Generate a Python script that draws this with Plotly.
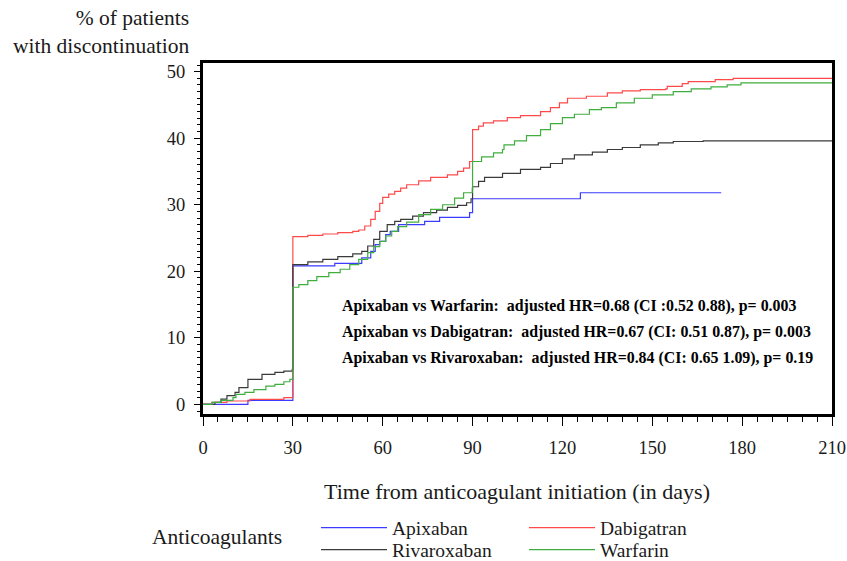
import plotly.graph_objects as go

# ---- data ----
api_t = [0, 15, 30, 44, 53, 56, 57.5, 59, 61, 62.5, 65.3, 74, 79, 89, 90, 126, 173]
api_y = [0, 0.6, 20.8, 21.2, 22.0, 23.0, 24.0, 24.5, 25.5, 26.0, 27.0, 27.5, 28.1, 28.8, 30.9, 31.8, 31.8]

dab_t = [0, 3, 8, 15.7, 27, 30, 35, 40, 45, 50, 52, 54, 56, 57.5, 59, 60, 62, 64, 66, 68, 72, 76, 81.6, 85, 87, 89,
         90, 92, 93.6, 97, 101.6, 106, 112.7, 116, 119, 121.7, 128, 135, 140, 146, 154.5, 155, 160, 162, 171, 177, 210]
dab_y = [0, 0.3, 0.5, 0.75, 1.0, 25.2, 25.4, 25.6, 25.8, 26.0, 26.2, 26.8, 27.8, 29.0, 30.2, 31.1, 31.6, 32.0, 32.5, 33.0,
         33.6, 34.1, 34.5, 35.0, 35.5, 36.5, 41.3, 41.8, 42.3, 42.6, 43.1, 43.4, 44.0, 44.6, 45.3, 46.0, 46.3, 46.8,
         47.1, 47.3, 47.4, 47.8, 48.2, 48.5, 48.8, 49.0, 49.0]

riv_t = [0, 4, 6, 8, 10.7, 12, 15, 19.7, 24, 27, 29.8, 30, 35, 40, 45, 50, 53, 55, 57, 59, 61.5, 64, 66, 70, 73.6, 78,
         81.6, 85, 88, 89.5, 90, 92, 94, 100, 106, 112.7, 116, 120, 124, 130, 135, 140, 146, 152, 157, 167, 210]
riv_y = [0, 0.3, 0.8, 1.3, 1.8, 2.5, 3.75, 4.5, 4.8, 5.0, 5.25, 21.0, 21.4, 21.8, 22.2, 22.6, 23.0, 23.8, 24.8, 26.0,
         27.0, 27.5, 27.8, 28.3, 28.8, 29.2, 29.6, 29.9, 30.3, 30.9, 32.7, 33.5, 34.1, 34.7, 35.3, 35.6, 36.2, 36.9,
         37.5, 37.9, 38.3, 38.6, 39.0, 39.3, 39.5, 39.6, 39.6]

war_t = [0, 3, 6, 10, 11, 14, 17, 21, 24, 27, 29, 30, 32, 35, 38, 42, 45.8, 49, 52, 55, 57, 59, 61, 63, 65, 68, 72, 76,
         80, 84, 87, 89.9, 90, 93, 97, 100, 100.5, 104, 108, 112.7, 116, 120, 124, 129, 133, 138, 144, 150, 157, 163,
         169.6, 175, 179.6, 210]
war_y = [0, 0.3, 0.6, 1.0, 1.5, 1.8, 2.2, 2.75, 3.0, 3.4, 3.75, 17.6, 18.0, 18.6, 19.2, 19.8, 20.3, 21.0, 21.8, 22.8,
         23.7, 24.5, 25.3, 26.0, 26.7, 27.4, 28.5, 29.3, 30.0, 31.0, 31.8, 32.5, 36.5, 37.2, 37.8, 38.3, 39.0, 39.6,
         40.4, 41.3, 42.2, 43.1, 43.6, 44.3, 44.6, 45.3, 46.0, 46.5, 47.0, 47.4, 47.7, 48.0, 48.3, 48.3]

x_ticks = [0, 30, 60, 90, 120, 150, 180, 210]
y_ticks = [0, 10, 20, 30, 40, 50]

hr_lines = [
    "Apixaban vs Warfarin:  adjusted HR=0.68 (CI :0.52 0.88), p= 0.003",
    "Apixaban vs Dabigatran:  adjusted HR=0.67 (CI: 0.51 0.87), p= 0.003",
    "Apixaban vs Rivaroxaban:  adjusted HR=0.84 (CI: 0.65 1.09), p= 0.19",
]

# ---- figure ----
W, H = 847, 561
ML, MT = 203, 63
MR = W - 832
MB = H - 414
PW, PH = W - ML - MR, H - MT - MB
SERIF = "Liberation Serif"
TXT = "#1a1a1a"

def px_x(px):  # page pixel -> paper
    return (px - ML) / PW

def px_y(py):
    return (H - MB - py) / PH

series = [
    ("Apixaban", api_t, api_y, "#3b3bff", "legend"),
    ("Dabigatran", dab_t, dab_y, "#ff4a4a", "legend"),
    ("Rivaroxaban", riv_t, riv_y, "#3a3a3a", "legend2"),
    ("Warfarin", war_t, war_y, "#3fae3f", "legend2"),
]

fig = go.Figure()
for name, t, y, col, lg in series:
    fig.add_trace(go.Scatter(x=t, y=y, mode="lines", name=name, line=dict(color=col, width=1.2, shape="hv"),
                             legend=lg, hoverinfo="skip"))

axis_common = dict(showgrid=False, zeroline=False, showline=True, linecolor="black", linewidth=3, mirror=True,
                   ticks="outside", tickcolor="black", tickwidth=1.2, automargin=False,
                   tickfont=dict(family=SERIF, size=18.5, color=TXT))

fig.update_xaxes(range=[0, 210], tickvals=x_ticks, ticklen=9, ticklabelstandoff=6,
                 minor=dict(dtick=5, ticks="outside", ticklen=5, tickcolor="black", tickwidth=1),
                 **axis_common)
fig.update_yaxes(range=[-1.45, 51.3], tickvals=y_ticks, ticklen=6, ticklabelstandoff=5,
                 minor=dict(dtick=1, ticks="outside", ticklen=3, tickcolor="black", tickwidth=1),
                 **axis_common)

ann = [
    dict(text="% of patients<br>with discontinuation", x=px_x(191), y=px_y(32), xanchor="right", yanchor="middle",
         align="right", font=dict(family=SERIF, size=21.5, color=TXT)),
    dict(text="Time from anticoagulant initiation (in days)", x=px_x(517), y=px_y(491), xanchor="center",
         yanchor="middle", font=dict(family=SERIF, size=22, color=TXT)),
    dict(text="Anticoagulants", x=px_x(150), y=px_y(537), xanchor="left", yanchor="middle",
         font=dict(family=SERIF, size=21.5, color=TXT)),
]
for i, line in enumerate(hr_lines):
    ann.append(dict(text="<b>" + line + "</b>", x=px_x(340), y=px_y(306 + 26 * i), xanchor="left", yanchor="middle",
                    font=dict(family=SERIF, size=15.9, color="black")))
for a in ann:
    a.update(xref="paper", yref="paper", showarrow=False)

leg_common = dict(orientation="h", xref="container", yref="container", xanchor="left", yanchor="middle",
                  entrywidth=127, entrywidthmode="pixels", itemwidth=66, bgcolor="rgba(0,0,0,0)",
                  font=dict(family=SERIF, size=19.5, color=TXT), itemclick=False, itemdoubleclick=False)

fig.update_layout(
    width=W, height=H, margin=dict(l=ML, r=MR, t=MT, b=MB, autoexpand=False),
    paper_bgcolor="white", plot_bgcolor="white",
    annotations=ann,
    legend=dict(x=316 / W, y=1 - 528 / H, **leg_common),
    legend2=dict(x=316 / W, y=1 - 550 / H, **leg_common),
    showlegend=True,
)

fig.write_html("out.html", config={"displayModeBar": False},
               post_script="document.body.style.margin='0';document.body.style.overflow='hidden';")
